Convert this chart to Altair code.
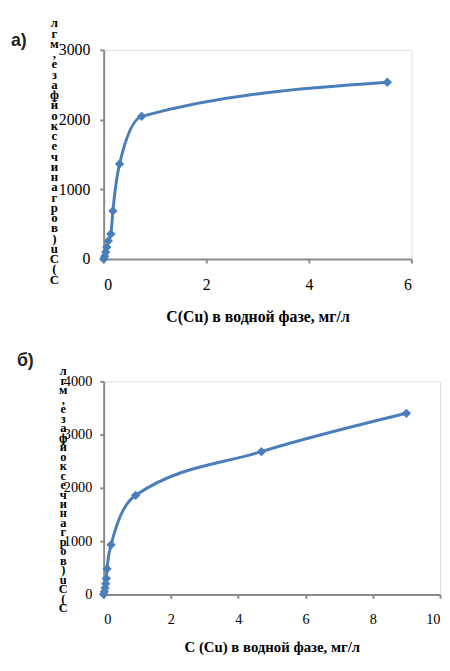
import altair as alt
import pandas as pd

# Panel a data
xa = [0, 0.02, 0.04, 0.06, 0.09, 0.14, 0.18, 0.31, 0.74, 5.53]
ya = [0, 40, 100, 170, 260, 360, 690, 1365, 2047, 2536]
# Panel b data
xb = [0, 0.02, 0.04, 0.06, 0.08, 0.10, 0.22, 0.95, 4.69, 9.0]
yb = [0, 50, 120, 200, 300, 480, 930, 1860, 2680, 3400]

xticks_a = [0, 2, 4, 6]
yticks_a = [0, 1000, 2000, 3000]
xticks_b = [0, 2, 4, 6, 8, 10]
yticks_b = [0, 1000, 2000, 3000, 4000]

xtitle_a = "C(Cu) в водной фазе, мг/л"
xtitle_b = "C (Cu) в водной фазе, мг/л"
ytitle = "C(Cu) в органической фазе, мг л"
label_a = "а)"
label_b = "б)"

BLUE = "#4a7ebb"
GRAY = "#8a8a8a"


def stacked(text):
    # characters stacked upright, read from bottom to top
    return "\n".join(c for c in reversed(text) if c != " ")


def panel(xs, ys, xt, yt, xtitle, label, W, H, lab_x, lab_y, tfs, lfs,
          ytx, yty, ylh, yfs, ylabpad, xlabpad, xtitlepad):
    df = pd.DataFrame({"x": xs, "y": ys})
    xenc = alt.X("x:Q", scale=alt.Scale(domain=[xt[0], xt[-1]], nice=False, zero=False),
                 axis=alt.Axis(values=xt, format="d", grid=False, domainColor=GRAY, domainWidth=2,
                               tickColor=GRAY, tickWidth=2, tickSize=4,
                               labelFont="Liberation Serif", labelFontSize=lfs,
                               labelColor="black", labelPadding=xlabpad,
                               title=xtitle, titleFont="Liberation Serif",
                               titleFontSize=tfs, titleFontWeight="bold",
                               titleColor="black", titlePadding=xtitlepad))
    yenc = alt.Y("y:Q", scale=alt.Scale(domain=[yt[0], yt[-1]], nice=False),
                 axis=alt.Axis(values=yt, format="d", grid=False, domainColor=GRAY, domainWidth=2,
                               tickColor=GRAY, tickWidth=2, tickSize=4,
                               labelFont="Liberation Serif", labelFontSize=lfs,
                               labelColor="black", labelPadding=ylabpad, title=None))
    base = alt.Chart(df)
    line = base.mark_line(interpolate="monotone", color=BLUE, strokeWidth=3).encode(x=xenc, y=yenc)
    pts = base.mark_point(shape="diamond", filled=True, size=90, color=BLUE, opacity=1).encode(x="x:Q", y="y:Q")
    lab = alt.Chart(pd.DataFrame({"t": [label]})).mark_text(
        align="left", baseline="alphabetic", font="Liberation Sans",
        fontWeight="bold", fontSize=18, color="#222222"
    ).encode(x=alt.value(lab_x), y=alt.value(lab_y), text="t:N")
    ytl = alt.Chart(pd.DataFrame({"t": [stacked(ytitle)]})).mark_text(
        align="center", baseline="top", font="Liberation Serif", fontSize=yfs,
        fontWeight="bold", lineBreak="\n", lineHeight=ylh, color="black"
    ).encode(x=alt.value(ytx), y=alt.value(yty), text="t:N")
    return alt.layer(line, pts, lab, ytl).properties(width=W, height=H)


pa = panel(xa, ya, xticks_a, yticks_a, xtitle_a, label_a, 312, 212, -94, -4, 16, 16,
           -50, -33, 10.4, 13, 10, 14, 16)
pb = panel(xb, yb, xticks_b, yticks_b, xtitle_b, label_b, 341, 216, -88, -16, 15, 14.5,
           -41, -16, 9.6, 12.5, 8, 15, 13.5)

chart = alt.vconcat(pa, pb, spacing=26).properties(
    padding={"left": 2, "top": 4, "right": 0, "bottom": 0}
).configure_view(stroke=None).configure(background="white")

chart.save("out.html", embed_options={"renderer": "svg", "actions": False})
